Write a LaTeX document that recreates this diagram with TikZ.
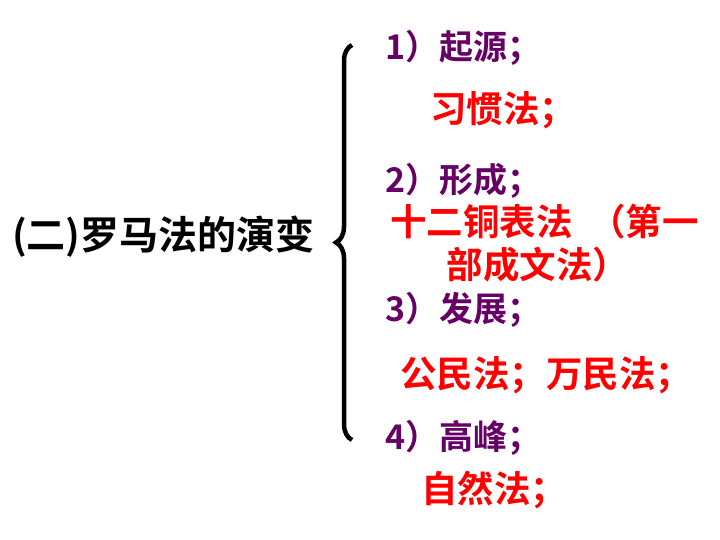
\documentclass[tikz,border=0pt]{standalone}
\usepackage{fontspec}
\setmainfont[BoldFont={Noto Sans CJK SC Bold}]{Noto Sans CJK SC}
\usetikzlibrary{decorations.pathreplacing}
\definecolor{pur}{HTML}{660066}
\tikzset{
 pt/.style={anchor=west,text=pur,font=\bfseries\fontsize{34}{38}\selectfont,inner sep=0},
 rt/.style={text=red,font=\bfseries\fontsize{36.5}{40}\selectfont,inner sep=0},
 bt/.style={anchor=west,text=black,font=\bfseries\fontsize{39}{42}\selectfont,inner sep=0}
}
\begin{document}
\begin{tikzpicture}[x=1pt,y=-1pt]
\useasboundingbox (0,0) rectangle (720,540);
\node[bt] (title) at (12,237) {(二)罗马法的演变};
\coordinate (bt) at (352,45);
\coordinate (bb) at (352,440);
\draw[line width=4.5pt,decorate,decoration={brace,amplitude=16pt,raise=0pt}] (bb) -- (bt);
\node[pt] (a1) at (385,48) {1）起源；};
\node[rt] (r1) at (503,110) {习惯法；};
\node[pt] (a2) at (385,181) {2）形成；};
\node[rt,anchor=west] (r2) at (390,222) {十二铜表法\ \ （第一};
\node[rt] (r2b) at (538,265) {部成文法）};
\node[pt] (a3) at (385,310) {3）发展；};
\node[rt] (r3) at (546,375) {公民法；万民法；};
\node[pt] (a4) at (385,438) {4）高峰；};
\node[rt] (r4) at (494,490) {自然法；};
\end{tikzpicture}
\end{document}
